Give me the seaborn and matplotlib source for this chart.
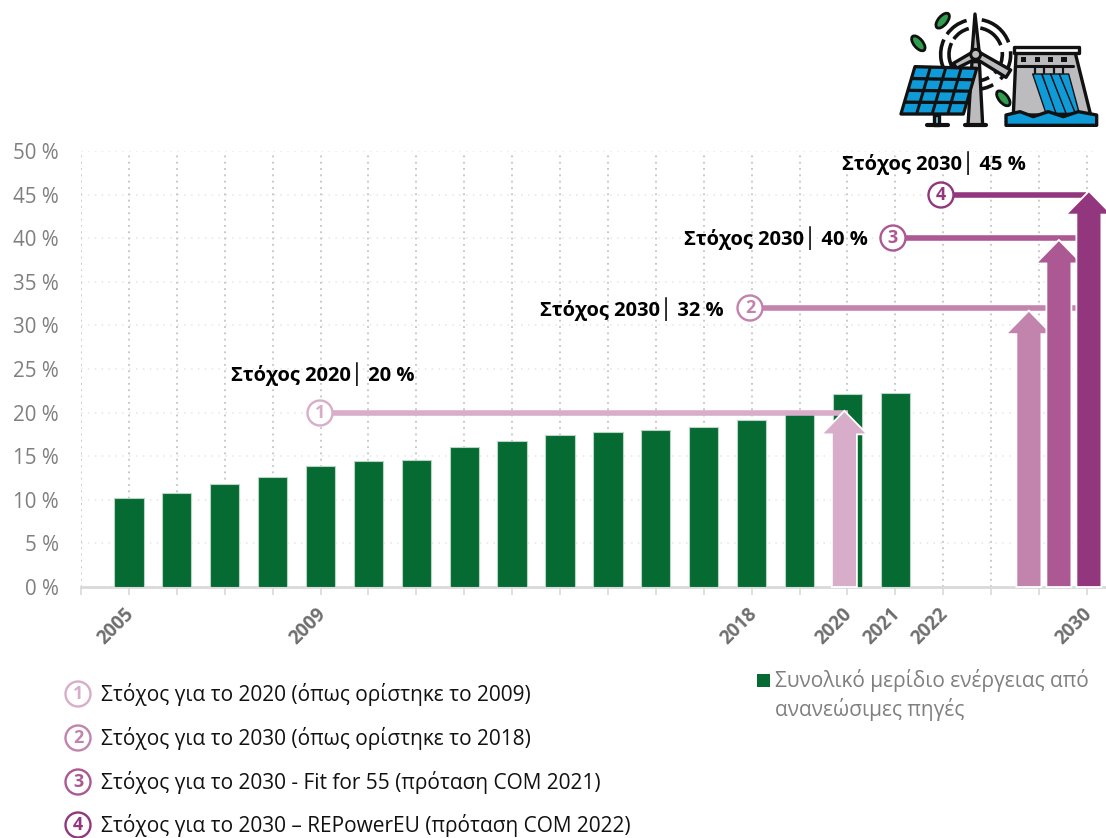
import numpy as np
import pandas as pd
import matplotlib
matplotlib.use("Agg")
import matplotlib.pyplot as plt
from matplotlib.patches import Polygon, Circle, Ellipse, Arc, Rectangle
from matplotlib.transforms import ScaledTranslation
import seaborn as sns

sns.set_theme(style="white")
plt.rcParams['font.family'] = ['Open Sans', 'Noto Sans', 'DejaVu Sans']

# ---- data ----
categories = ["2005","2006","2007","2008","2009","2010","2011","2012","2013","2014","2015",
              "2016","2017","2018","2019","2020","2021","2022","2023","2024","2030"]
shown_years = ["2005","2009","2018","2020","2021","2022","2030"]
years = categories[:17]
shares = [10.2,10.8,11.8,12.6,13.9,14.4,14.6,16.0,16.7,17.4,17.8,18.0,18.4,19.1,19.9,22.1,22.2]
series_name = ["Συνολικό μερίδιο ενέργειας από", "ανανεώσιμες πηγές"]

target_ids = ["1","2","3","4"]
target_vals = [20.0, 32.0, 40.0, 45.0]
arrow_tips = [20.2, 31.7, 39.8, 45.4]
target_colors = ["#d8adca","#c283ac","#ab5893","#92377e"]
target_labels = ["Στόχος 2020│ 20 %","Στόχος 2030│ 32 %","Στόχος 2030│ 40 %","Στόχος 2030│ 45 %"]
legend_labels = ["Στόχος για το 2020 (όπως ορίστηκε το 2009)",
                 "Στόχος για το 2030 (όπως ορίστηκε το 2018)",
                 "Στόχος για το 2030 - Fit for 55 (πρόταση COM 2021)",
                 "Στόχος για το 2030 – REPowerEU (πρόταση COM 2022)"]
y_ticks = [0,5,10,15,20,25,30,35,40,45,50]

W, H = 1106, 838
GREEN = "#066a33"
GRAY = "#7f7f7f"

fig = plt.figure(figsize=(W/100, H/100), dpi=100)
ax = fig.add_axes([81/W, 1-587/H, (W-81)/W, (587-151)/H])

df = pd.DataFrame({"year": years, "share": shares})
sns.barplot(data=df, x="year", y="share", order=categories, color=GREEN, saturation=1,
            width=0.61, edgecolor="#b9d6c4", linewidth=0.8, ax=ax, zorder=3)

step = 47.9
x_left = -1.0
ax.set_xlim(x_left, x_left + (W-81)/step)
ax.set_ylim(0, 50)
ax.set_xlabel(""); ax.set_ylabel("")

def xpx(px):
    return (px-129)/step
def px_y(py):
    return (587-py)/436*50

for s in ["top","right","left"]:
    ax.spines[s].set_visible(False)
ax.spines["bottom"].set_color("#d9d9d9")
ax.spines["bottom"].set_linewidth(2)

# ticks
ax.set_xticks(range(-1, 21))
ax.set_xticklabels([""] + [c if c in shown_years else "" for c in categories])
ax.tick_params(axis="x", length=6, width=1.2, color="#d9d9d9", pad=6, bottom=True)
shift = ScaledTranslation(-5/100, 0, fig.dpi_scale_trans)
for t in ax.get_xticklabels():
    t.set(rotation=45, ha="right", rotation_mode="anchor", color="#6e6e6e",
          fontsize=13.6, fontweight="bold")
    t.set_transform(t.get_transform() + shift)
ax.set_yticks(y_ticks)
ax.set_yticklabels([f"{v} %" for v in y_ticks], color=GRAY, fontsize=14.8)
ax.tick_params(axis="y", length=0, pad=16)

# grid
ax.set_axisbelow(True)
for v in y_ticks[1:]:
    ax.plot([x_left, xpx(1098)], [v, v], ls=(0,(1,3.5)), lw=1.1, color="#e6e6e6", zorder=1)
for i in range(-1, 21):
    ax.plot([i, i], [0, 50], ls=(0,(1,2.5)), lw=1.3, color="#c4c4c4", zorder=1)

# target lines
line_starts = [320, 750, 893, 940]
line_ends = [848, 1076, 1076, 1086]
arrow_centers = [844.5, 1029, 1059, 1089]
shaft_half = 12.5
head_half = 23
head_h = px_y(587-23.5)
for i in range(4):
    col = target_colors[i]
    ax.plot([xpx(line_starts[i]), xpx(line_ends[i])], [target_vals[i]]*2, color=col, lw=4,
            solid_capstyle="butt", zorder=4, clip_on=False)

for i in [0, 1, 2, 3]:
    c = arrow_centers[i]; tip = arrow_tips[i]; col = target_colors[i]
    xs = [xpx(c-shaft_half), xpx(c-shaft_half), xpx(c-head_half), xpx(c), xpx(c+head_half),
          xpx(c+shaft_half), xpx(c+shaft_half)]
    ys = [0, tip-head_h, tip-head_h, tip, tip-head_h, tip-head_h, 0]
    ax.add_patch(Polygon(np.column_stack([xs, ys]), closed=True, facecolor=col,
                         edgecolor="white", lw=1.3, zorder=5, clip_on=False, joinstyle="miter"))

# overlay in pixel space
ov = fig.add_axes([0, 0, 1, 1], zorder=10)
ov.set_xlim(0, W); ov.set_ylim(H, 0); ov.axis("off"); ov.patch.set_alpha(0)

def badge(x, y, i):
    ov.add_patch(Circle((x, y), 12.5, facecolor="white", edgecolor=target_colors[i], lw=1.7))
    ov.text(x, y-0.5, target_ids[i], color=target_colors[i], ha="center", va="center",
            fontsize=13, fontweight="bold")

badge_xy = [(320,413),(750,308),(893,238),(941,195)]
label_xy = [(231,374),(540,309),(684,238),(842,163)]
for i in range(4):
    badge(*badge_xy[i], i)
    ov.text(*label_xy[i], target_labels[i], color="black", ha="left", va="center",
            fontsize=14.5, fontweight="bold")

# numbered legend
legend_y = [694, 738, 782, 825]
for i in range(4):
    badge(78, legend_y[i], i)
    ov.text(101, legend_y[i], legend_labels[i], color="#111111", ha="left", va="center", fontsize=15)

# series legend
ov.add_patch(Rectangle((757, 674), 13, 13, facecolor=GREEN, edgecolor="none"))
ov.text(775, 680, series_name[0], color=GRAY, ha="left", va="center", fontsize=15)
ov.text(775, 709, series_name[1], color=GRAY, ha="left", va="center", fontsize=15)

# icon (decorative), drawn in zoom-crop coordinates
def P(x, y):
    return (800 + x/3, y/3)
def poly(pts, fc, ec="#111111", lw=2.4, z=11):
    ov.add_patch(Polygon([P(*p) for p in pts], closed=True, facecolor=fc, edgecolor=ec, lw=lw,
                         zorder=z, joinstyle="round"))
BLUE = "#0f9bd7"; IG = "#bcbcbf"; K = "#111111"
hub = P(527, 163)
for r in [105, 80]:
    for a1, a2 in [(-80, -20), (-5, 45), (135, 205), (215, 255), (60, 120)]:
        ov.add_patch(Arc(hub, 2*r/3, 2*r/3, theta1=a1, theta2=a2, color=K, lw=2.6, zorder=11))
# leaves
for (x, y, ang) in [(428, 62, -50), (355, 130, 50), (610, 295, 50)]:
    ov.add_patch(Ellipse(P(x, y), 18, 9, angle=ang, facecolor="#2f9e4f", edgecolor=K, lw=2, zorder=11))
# turbine
poly([(516,185),(538,185),(548,375),(504,375)], IG)
poly([(516,160),(525,42),(538,160)], IG)
poly([(535,155),(632,210),(618,232),(526,175)], IG)
poly([(520,155),(460,190),(470,205),(530,175)], IG)
ov.add_patch(Circle(hub, 5, facecolor=IG, edgecolor=K, lw=2.2, zorder=12))
ov.plot(*zip(P(495,376), P(558,376)), color=K, lw=3, zorder=12)
# solar panel
poly([(403,345),(418,345),(418,375),(403,375)], "#7fd0e6", z=12)
ov.plot(*zip(P(380,376), P(445,376)), color=K, lw=3, zorder=12)
tl, tr, br, bl = np.array([345,200.]), np.array([530,205.]), np.array([490,342.]), np.array([303,342.])
poly([tl, tr, br, bl], K, z=12)
for r in range(4):
    for c in range(4):
        u0, u1 = (c+0.1)/4, (c+0.9)/4
        v0, v1 = (r+0.14)/4, (r+0.86)/4
        def q(u, v):
            top = tl + (tr-tl)*u; bot = bl + (br-bl)*u
            return top + (bot-top)*v
        poly([q(u0,v0), q(u1,v0), q(u1,v1), q(u0,v1)], BLUE, ec="none", lw=0, z=13)
# dam
poly([(648,160),(826,160),(872,345),(640,345)], IG, z=11)
poly([(642,142),(836,142),(836,160),(642,160)], "white", z=12)
for x in [670, 712, 752, 792]:
    ov.add_patch(Rectangle(P(x-8, 170), 16/3, 16/3, facecolor=K, edgecolor="none", zorder=13))
ov.plot(*zip(P(650,198), P(820,198)), color=K, lw=2.2, zorder=13)
for x in [705, 733, 761, 789]:
    ov.plot(*zip(P(x,198), P(x,220)), color=K, lw=1.6, zorder=13)
for x0, x1, x2, x3 in [(698,725,770,738),(726,752,800,768),(752,778,830,798),(778,806,838,826)]:
    poly([(x0,222),(x1,222),(x2,340),(x3,340)], BLUE, ec=K, lw=1.0, z=13)
poly([(618,345),(660,335),(700,350),(745,335),(790,350),(835,335),(890,345),(890,376),(618,376)],
     BLUE, z=14)

fig.savefig("out.png", dpi=100)
